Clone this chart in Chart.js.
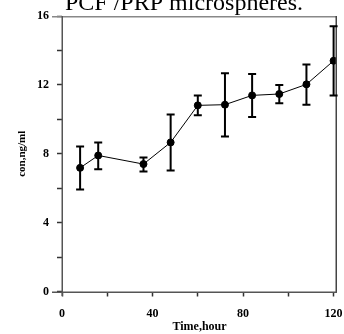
<!DOCTYPE html>
<html>
<head>
<meta charset="utf-8">
<script src="https://cdn.jsdelivr.net/npm/chart.js@4/dist/chart.umd.min.js"></script>
</head>
<body style="margin:0">
<canvas id="chart" width="344" height="334"></canvas>
<script>
// data
const hours = [8, 16, 36, 48, 60, 72, 84, 96, 108, 120];
const conc = [7.18, 7.9, 7.4, 8.66, 10.81, 10.85, 11.39, 11.47, 12.03, 13.4];
const errHigh = [8.42, 8.66, 7.78, 10.28, 11.39, 12.67, 12.63, 12.0, 13.19, 15.4];
const errLow = [5.92, 7.1, 6.97, 7.03, 10.23, 9.0, 10.13, 10.93, 10.85, 11.39];
const xTicks = [0, 20, 40, 60, 80, 100, 120];
const xLabels = [0, 40, 80, 120];
const yTicks = [0, 2, 4, 6, 8, 10, 12, 14, 16];
const yLabels = [0, 4, 8, 12, 16];
const titleText = 'PCF /PRP microspheres.';

const serif = '"Liberation Serif", "Times New Roman", serif';

// axes, frame, error bars and title
const extras = {
    id: 'extras',
    afterDraw(chart) {
        const ctx = chart.ctx;
        const xs = chart.scales.x, ys = chart.scales.y;
        const l = Math.round(xs.getPixelForValue(0));
        const r = Math.round(xs.getPixelForValue(121.5));
        const t = Math.round(ys.getPixelForValue(16));
        const b = Math.round(ys.getPixelForValue(0));
        ctx.save();
        ctx.fillStyle = '#888';
        ctx.fillRect(l - 10, t, r - l + 10, 1.5);
        ctx.fillStyle = '#444';
        ctx.fillRect(r - 1.5, t, 1.5, b - t);
        ctx.fillStyle = '#555';
        ctx.fillRect(l - 0.5, t, 1.5, b - t + 4);
        ctx.fillRect(l - 10, b - 0.5, r - l + 10, 1.5);

        ctx.strokeStyle = '#000';
        ctx.lineWidth = 2;
        hours.forEach((h, i) => {
            const x = xs.getPixelForValue(h);
            const y1 = ys.getPixelForValue(errHigh[i]);
            const y2 = ys.getPixelForValue(errLow[i]);
            ctx.beginPath();
            ctx.moveTo(x, y1); ctx.lineTo(x, y2);
            ctx.moveTo(x - 4, y1); ctx.lineTo(x + 4, y1);
            ctx.moveTo(x - 4, y2); ctx.lineTo(x + 4, y2);
            ctx.stroke();
        });

        ctx.fillStyle = '#000';
        ctx.font = '24px ' + serif;
        ctx.textAlign = 'center';
        ctx.textBaseline = 'alphabetic';
        ctx.fillText(titleText, 184, 10);
        ctx.restore();
    }
};

new Chart(document.getElementById('chart'), {
    type: 'scatter',
    data: {
        datasets: [{
            data: hours.map((h, i) => ({ x: h, y: conc[i] })),
            showLine: true,
            borderColor: '#000',
            borderWidth: 1,
            backgroundColor: '#000',
            pointRadius: 3.5,
            pointHoverRadius: 3.5
        }]
    },
    options: {
        responsive: false,
        animation: false,
        layout: { padding: { left: 0, right: 7, top: 16, bottom: 0 } },
        plugins: {
            legend: { display: false },
            tooltip: { enabled: false }
        },
        scales: {
            x: {
                min: 0,
                max: 121.5,
                afterBuildTicks: s => { s.ticks = xTicks.map(v => ({ value: v })); },
                afterFit: s => { s.height = 42.5; s.paddingLeft = 0; s.paddingRight = 0; },
                border: { display: false },
                grid: { drawOnChartArea: false, tickLength: 5, tickColor: '#333', tickWidth: 1.5 },
                ticks: {
                    color: '#000',
                    padding: 10,
                    maxRotation: 0,
                    autoSkip: false,
                    font: { family: serif, size: 12, weight: 'bold' },
                    callback: v => xLabels.includes(v) ? String(v) : ''
                },
                title: {
                    display: true,
                    text: 'Time,hour',
                    color: '#000',
                    padding: { top: 0, bottom: 0 },
                    font: { family: serif, size: 12, weight: 'bold' }
                }
            },
            y: {
                min: 0,
                max: 16,
                afterBuildTicks: s => { s.ticks = yTicks.map(v => ({ value: v })); },
                afterFit: s => { s.width = 62; s.paddingTop = 0; s.paddingBottom = 0; },
                border: { display: false },
                grid: { drawOnChartArea: false, tickLength: 5, tickColor: '#333', tickWidth: 1.5 },
                ticks: {
                    color: '#000',
                    padding: 8,
                    autoSkip: false,
                    font: { family: serif, size: 12, weight: 'bold' },
                    callback: v => yLabels.includes(v) ? String(v) : ''
                },
                title: {
                    display: true,
                    text: 'con,ng/ml',
                    color: '#000',
                    padding: { top: 16, bottom: 0 },
                    font: { family: serif, size: 11, weight: 'bold' }
                }
            }
        }
    },
    plugins: [extras]
});
</script>
</body>
</html>
